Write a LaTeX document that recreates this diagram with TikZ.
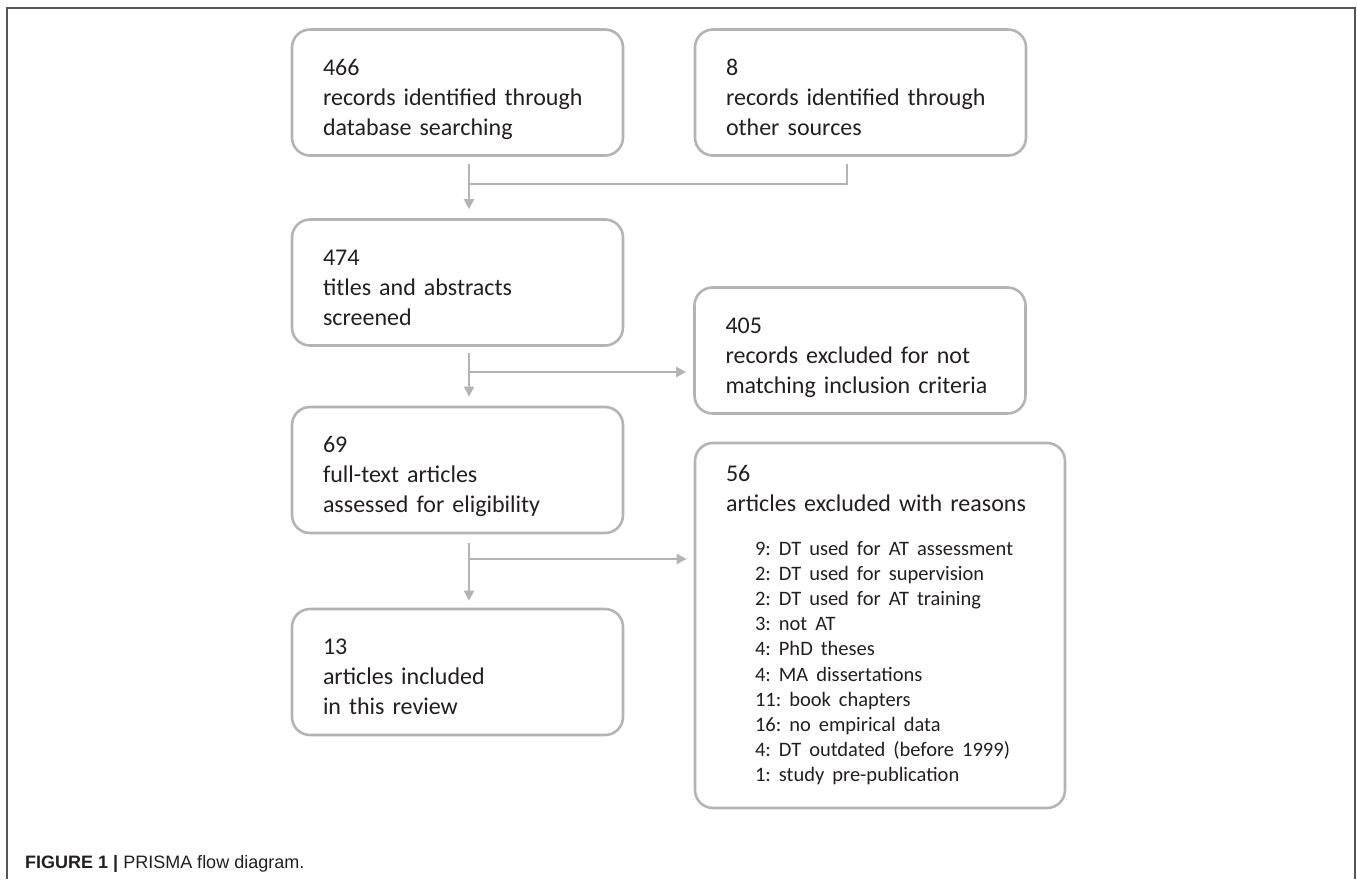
\documentclass[tikz,border=0pt]{standalone}
\usepackage{fontspec}
\setmainfont{Carlito}
\newfontfamily\capfont{Liberation Sans}
\usepackage{tikz}
\usetikzlibrary{arrows.meta}
\frenchspacing

\definecolor{boxgray}{RGB}{180,180,180}
\definecolor{inkgray}{RGB}{35,31,32}
\definecolor{framegray}{RGB}{85,85,85}

\begin{document}
\begin{tikzpicture}
	[x=1pt,y=-1pt,
	stage/.style={draw=boxgray,line width=2.6pt,rounded corners=18pt,align=left,text=inkgray,
		text width=269pt,minimum width=331pt,minimum height=126pt,text height=30pt,text depth=65pt,
		font=\fontsize{24}{30}\selectfont},
	link/.style={draw=boxgray,line width=2pt},
	flow/.style={link,-{Triangle[width=10pt,length=10pt]}}]
	\useasboundingbox (0,0) rectangle (1357,879);
	\draw[framegray,line width=1.5pt] (7,879) -- (7,8) -- (1355,8) -- (1355,879);

	\node[stage] (n466) at (457.5,92.5) {466\\records identified through\\database searching};
	\node[stage] (n8) at (860.5,92.5) {8\\records identified through\\other sources};
	\node[stage] (n474) at (457.5,282.5) {474\\titles and abstracts\\screened};
	\node[stage] (n405) at (860,350.5) {405\\records excluded for not\\matching inclusion criteria};
	\node[stage] (n69) at (457.5,470) {69\\full-text articles\\assessed for eligibility};
	\node[stage,minimum width=370pt,minimum height=365pt,text width=308pt,text height=17pt,text depth=306pt] (n56)
		at (880,625.5) {56\\articles excluded with reasons\\[14pt]
		{\fontsize{20.5}{25.2}\selectfont
		\begin{tabular}[t]{@{\hspace{29pt}}l@{}}
			9: DT used for AT assessment\\
			2: DT used for supervision\\
			2: DT used for AT training\\
			3: not AT\\
			4: PhD theses\\
			4: MA dissertations\\
			11: book chapters\\
			16: no empirical data\\
			4: DT outdated (before 1999)\\
			1: study pre-publication
		\end{tabular}}};
	\node[stage] (n13) at (457.5,672) {13\\articles included\\in this review};

	\node[anchor=base west,inner sep=0pt,text=inkgray,font=\capfont\fontsize{18}{22}\selectfont] (cap)
		at (25,868) {\textbf{FIGURE 1 |} PRISMA flow diagram.};

	\coordinate (j1) at (469,184);
	\coordinate (j2) at (469,372);
	\coordinate (j3) at (469,559);

	\draw[flow] ([xshift=11.5pt,yshift=-7pt]n466.south) -- ([xshift=11.5pt,yshift=9pt]n474.north);
	\draw[link] ([xshift=-13.5pt,yshift=-7pt]n8.south) |- (j1);
	\draw[flow] ([xshift=11.5pt,yshift=-6pt]n474.south) -- ([xshift=11.5pt,yshift=9pt]n69.north);
	\draw[flow] (j2) -- ([xshift=-7pt]n405.west |- j2);
	\draw[flow] ([xshift=11.5pt,yshift=-9pt]n69.south) -- ([xshift=11.5pt,yshift=7pt]n13.north);
	\draw[flow] (j3) -- ([xshift=-7pt]n56.west |- j3);
\end{tikzpicture}
\end{document}
